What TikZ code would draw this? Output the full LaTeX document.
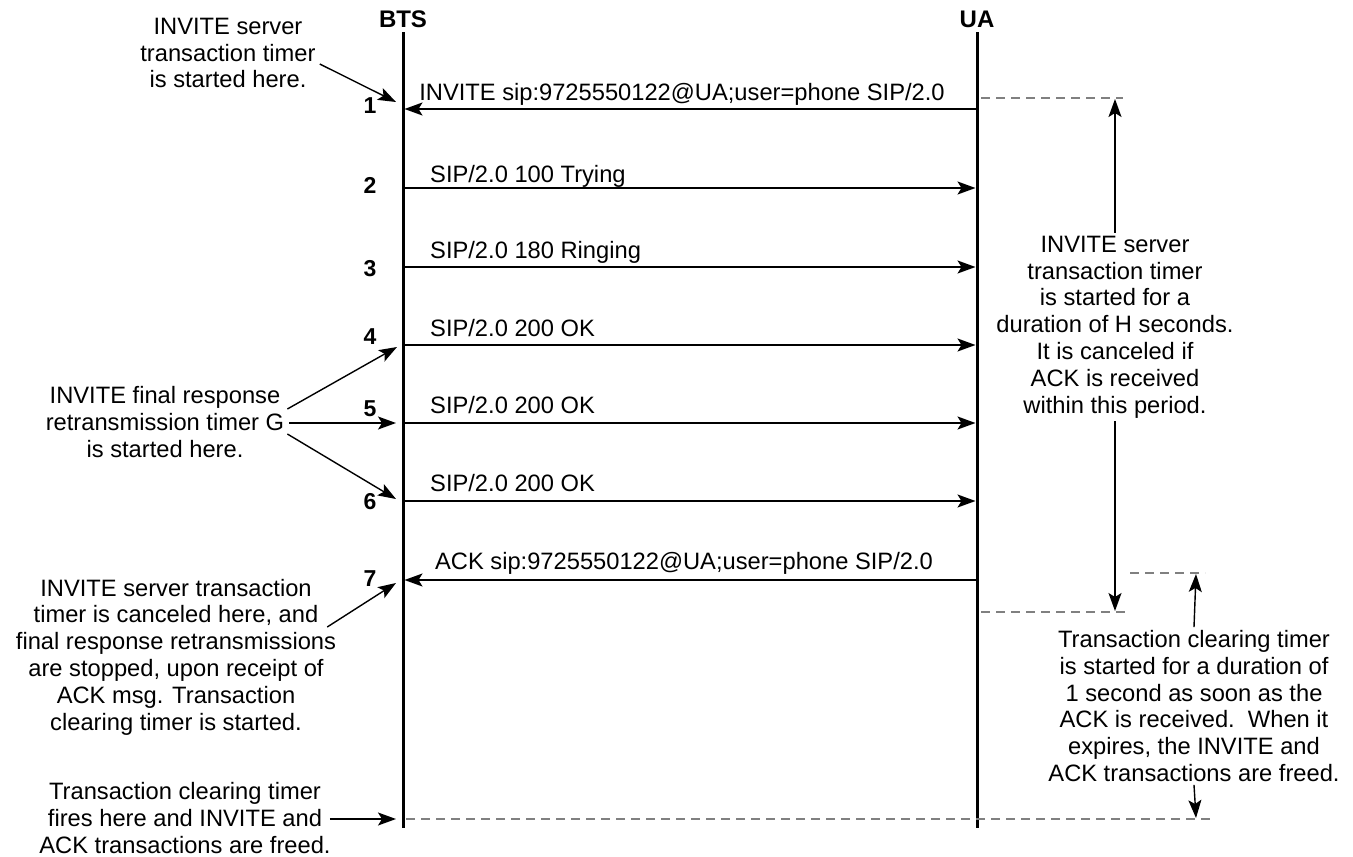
\documentclass[tikz,border=0pt]{standalone}
\usepackage{fontspec}
\setmainfont{Liberation Sans}
\usepackage{tikz}
\usetikzlibrary{arrows.meta, positioning}

\begin{document}
\begin{tikzpicture}[x=1pt, y=-1pt,
    txt/.style={font=\fontsize{23.7}{26.8}\selectfont, inner sep=0pt},
    note/.style={txt, align=center},
    num/.style={font=\fontsize{23}{26}\selectfont\bfseries, inner sep=0pt},
    life/.style={line width=3pt},
    msg/.style={line width=1.6pt, -{Stealth[length=18pt, width=13pt, inset=4pt]}, shorten >=1.5pt},
    pointer/.style={line width=1.4pt, -{Stealth[length=18pt, width=13pt, inset=4pt]}},
    guide/.style={line width=1.3pt, gray, dash pattern=on 9pt off 6pt}]

    % Canvas
    \path[fill=white, use as bounding box] (0,0) rectangle (1353,857);

    % Entities and lifelines
    \node (bts) [num, font=\fontsize{24}{26}\selectfont\bfseries] at (403,19) {BTS};
    \node (ua) [num, font=\fontsize{24}{26}\selectfont\bfseries] at (977,19) {UA};
    \coordinate (btsEnd) at (403,828);
    \coordinate (uaEnd) at (977,828);
    \draw[life] (403,32) -- (btsEnd);
    \draw[life] (977,32) -- (uaEnd);

    % Points on the lifelines and step numbers
    \foreach \n/\y/\ny in {1/109/106, 2/188/185, 3/267/269, 4/345/337, 5/423/409, 6/501/502, 7/580/579} {
        \coordinate (bts\n) at (403,\y);
        \coordinate (ua\n) at (977,\y);
        \node (num\n) [num] at (370,\ny) {\n};
    }

    % Messages
    \draw[msg] (ua1) -- (bts1);
    \node (inviteLbl) [txt, anchor=base] at (682,100) {INVITE sip:9725550122@UA;user=phone SIP/2.0};
    \draw[msg] (bts2) -- (ua2);
    \node (tryingLbl) [txt, anchor=base west] at (430,182) {SIP/2.0 100 Trying};
    \draw[msg] (bts3) -- (ua3);
    \node (ringingLbl) [txt, anchor=base west] at (430,258) {SIP/2.0 180 Ringing};
    \draw[msg] (bts4) -- (ua4);
    \node (okLblA) [txt, anchor=base west] at (430,336) {SIP/2.0 200 OK};
    \draw[msg] (bts5) -- (ua5);
    \node (okLblB) [txt, anchor=base west] at (430,413) {SIP/2.0 200 OK};
    \draw[msg] (bts6) -- (ua6);
    \node (okLblC) [txt, anchor=base west] at (430,491) {SIP/2.0 200 OK};
    \draw[msg] (ua7) -- (bts7);
    \node (ackLbl) [txt, anchor=base] at (684,569) {ACK sip:9725550122@UA;user=phone SIP/2.0};

    % Notes on the left
    \node (noteStart) [note] at (228,53) {INVITE server\\transaction timer\\is started here.};
    \node (noteTimerG) [note] at (165,422) {INVITE final response\\retransmission timer G\\is started here.};
    \node (noteCancel) [note] at (176,657) {INVITE server transaction\\timer is canceled here, and\\final response retransmissions\\are stopped, upon receipt of\\ACK msg. Transaction\\clearing timer is started.};
    \node (noteFired) [note] at (185,818) {Transaction clearing timer\\fires here and INVITE and\\ACK transactions are freed.};

    \coordinate (tipStart) at (396,102);
    \coordinate (tipG4) at (397,347);
    \coordinate (tipG5) at (396,423);
    \coordinate (tipG6) at (396,499);
    \coordinate (tipCancel) at (396,583);
    \coordinate (tipFired) at (396,819);

    \draw[pointer] ([shift={(4,11)}]noteStart.east) -- (tipStart);
    \draw[pointer] ([shift={(3,-13)}]noteTimerG.east) -- (tipG4);
    \draw[pointer] ([shift={(5,1)}]noteTimerG.east) -- (tipG5);
    \draw[pointer] ([shift={(3,12)}]noteTimerG.east) -- (tipG6);
    \draw[pointer] ([shift={(-9,-30)}]noteCancel.east) -- (tipCancel);
    \draw[pointer] ([shift={(-1,1)}]noteFired.east) -- (tipFired);

    % Timer H on the right
    \draw[guide] (981,98) -- (1123,98);
    \draw[guide] (981,612) -- (1125,612);
    \node (noteH) [note] at (1115,327) {INVITE server\\transaction timer\\is started for a\\duration of H seconds.\\It is canceled if\\ACK is received\\within this period.};
    \coordinate (hTop) at (1115,99);
    \coordinate (hBot) at (1115,611);
    \draw[pointer] ([yshift=3pt]noteH.north) -- (hTop);
    \draw[pointer] ([yshift=-3pt]noteH.south) -- (hBot);

    % Transaction clearing timer on the right
    \draw[guide] (1130,573) -- (1205,573);
    \draw[guide] (406,819) -- (1210,819);
    \node (noteClear) [note] at (1194,706) {Transaction clearing timer\\is started for a duration of\\1 second as soon as the\\ACK is received.~~When it\\expires, the INVITE and\\ACK transactions are freed.};
    \coordinate (cTop) at (1196,574);
    \coordinate (cBot) at (1196,818);
    \draw[pointer] ([yshift=3pt]noteClear.north) -- (cTop);
    \draw[pointer] ([yshift=-3pt]noteClear.south) -- (cBot);

\end{tikzpicture}
\end{document}
